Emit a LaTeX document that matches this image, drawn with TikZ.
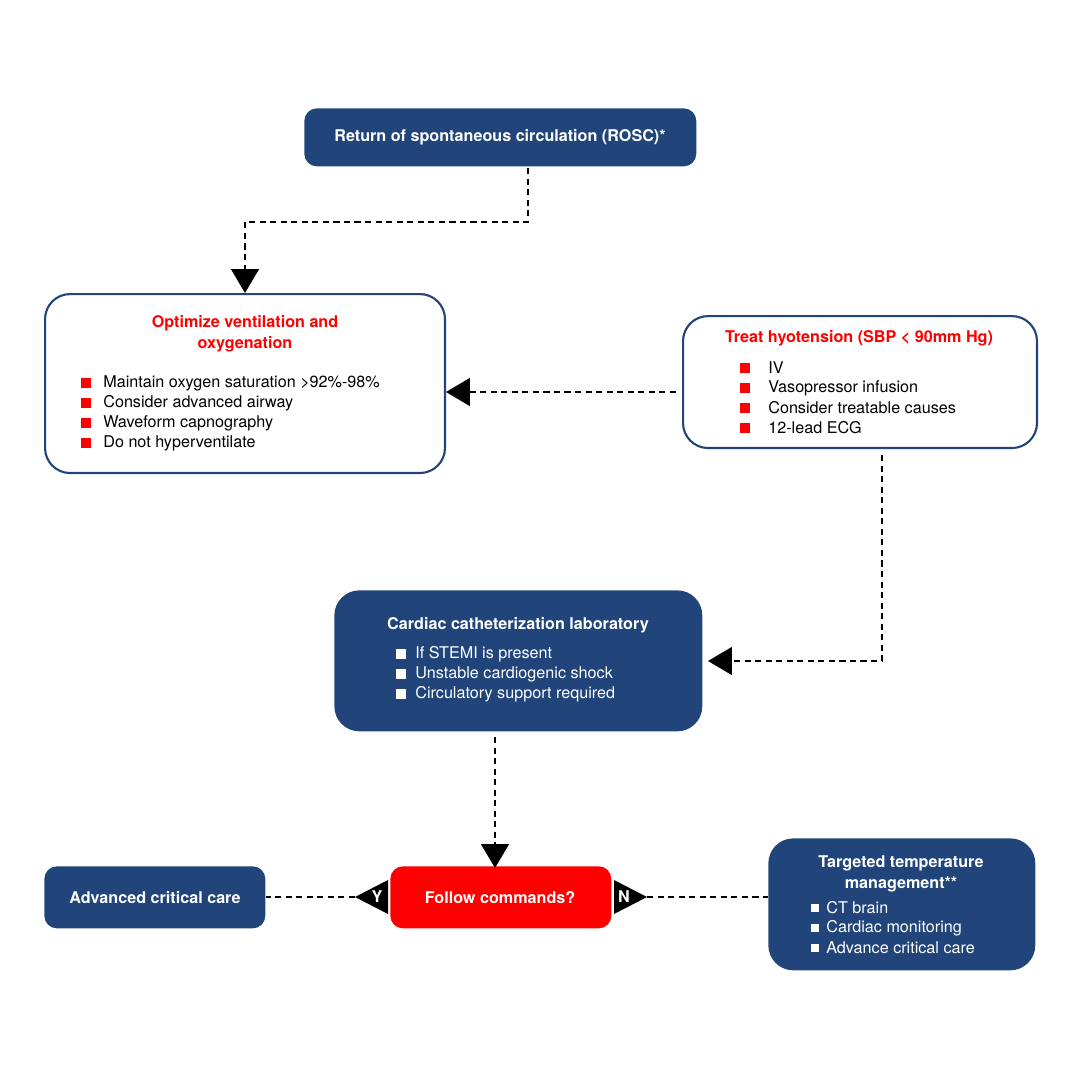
\documentclass[tikz,border=0pt]{standalone}
\usepackage{fontspec}
\setmainfont{TeX Gyre Heros}
\usetikzlibrary{arrows.meta}
\definecolor{navy}{HTML}{21457A}
\definecolor{rd}{HTML}{FF0000}
\begin{document}
\begin{tikzpicture}[x=0.02cm,y=-0.02cm,
 box/.style={draw=navy,line width=1.2pt,rounded corners=0.5cm,anchor=north west,inner sep=0pt},
 fbox/.style={fill=navy,draw=none,rounded corners=0.25cm,anchor=north west,inner sep=0pt},
 t/.style={font=\fontsize{9.2}{11}\selectfont,inner sep=0pt},
 tb/.style={t,font=\fontsize{9.2}{11}\selectfont\bfseries},
 li/.style={t,anchor=west},
 con/.style={dashed,line width=0.8pt,dash pattern=on 3.5pt off 2.5pt},
 arr/.style={con,-{Triangle[length=0.48cm,width=0.56cm]}}]
\useasboundingbox (0,0) rectangle (1080,1080);
% boxes
\node[fbox,minimum width=7.84cm,minimum height=1.16cm] (rosc) at (304,108) {};
\node[tb,white] at (500,137) {Return of spontaneous circulation (ROSC)*};
\node[box,fill=white,minimum width=8cm,minimum height=3.58cm] (opt) at (44,293) {};
\node[tb,rd,align=center] at (245,334) {Optimize ventilation and\\[1pt] oxygenation};
\foreach \y/\s [count=\i] in {383/Maintain oxygen saturation >92\%-98\%,403/Consider advanced airway,423/Waveform capnography,443/Do not hyperventilate}{
 \fill[rd] (81,\y) ++(0,-5) rectangle ++(10,10);
 \node[li] (o\i) at (103,\y) {\s};}
\node[box,fill=white,minimum width=7.08cm,minimum height=2.64cm] (trt) at (682,315) {};
\node[tb,rd] at (859,338) {Treat hyotension (SBP < 90mm Hg)};
\foreach \y/\s [count=\i] in {368/IV/IO bolus,388/Vasopressor infusion,408/Consider treatable causes,428/12-lead ECG}{
 \fill[rd] (740,\y) ++(0,-5) rectangle ++(10,10);
 \node[li] (t\i) at (768,\y) {\s};}
\node[fbox,rounded corners=0.5cm,minimum width=7.36cm,minimum height=2.82cm] (cath) at (334,590) {};
\node[tb,white] at (518,625) {Cardiac catheterization laboratory};
\foreach \y/\s [count=\i] in {654/If STEMI is present,674/Unstable cardiogenic shock,694/Circulatory support required}{
 \fill[white] (396,\y) ++(0,-5) rectangle ++(10,10);
 \node[li,white] (c\i) at (415,\y) {\s};}
\node[fbox,minimum width=4.42cm,minimum height=1.24cm] (acc) at (44,866) {};
\node[tb,white] at (155,898) {Advanced critical care};
\node[fbox,fill=rd,minimum width=4.42cm,minimum height=1.24cm] (fc) at (390,866) {};
\node[tb,white] at (500,898) {Follow commands?};
\node[fbox,rounded corners=0.5cm,minimum width=5.34cm,minimum height=2.64cm] (ttm) at (768,838) {};
\node[tb,white,align=center] at (901,874) {Targeted temperature\\[1pt] management**};
\foreach \y/\s [count=\i] in {908/CT brain,928/Cardiac monitoring,948/Advance critical care}{
 \fill[white] (811,\y) ++(0,-4) rectangle ++(8,8);
 \node[li,white] (m\i) at (826,\y) {\s};}
% connectors
\coordinate (a1) at (528,168);
\coordinate (a2) at (245,293);
\draw[arr] (a1) -- (528,222) -| (a2);
\coordinate (b1) at (676,392);
\coordinate (b2) at (446,392);
\draw[arr] (b1) -- (b2);
\coordinate (d1) at (882,455);
\coordinate (d2) at (708,661);
\draw[arr] (d1) |- (d2);
\coordinate (e1) at (495,737);
\coordinate (e2) at (495,868);
\draw[arr] (e1) -- (e2);
% Y / N
\fill (388,880) -- (355,897) -- (388,914) -- cycle;
\node[tb,white] (Y) at (377,897) {Y};
\fill (614,880) -- (647,897) -- (614,914) -- cycle;
\node[tb,white] (N) at (624,897) {N};
\coordinate (yt) at (355,897);
\coordinate (nt) at (647,897);
\draw[con] (yt) -- (acc.east |- yt);
\draw[con] (nt) -- (ttm.west |- nt);
\end{tikzpicture}
\end{document}
